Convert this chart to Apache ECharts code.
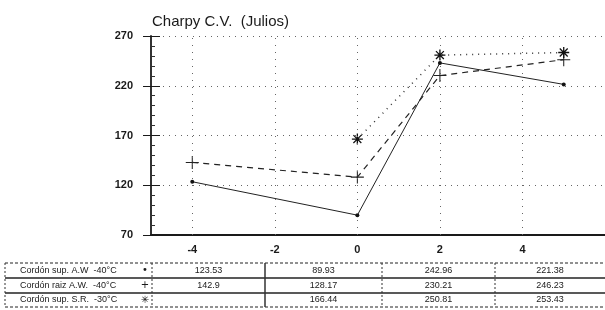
<!DOCTYPE html>
<html>
<head>
<meta charset="utf-8">
<script src="https://cdn.jsdelivr.net/npm/echarts@6/dist/echarts.min.js"></script>
<style>
    html, body { margin: 0; padding: 0; background: #fff; }
    #chart { width: 605px; height: 310px; }
</style>
</head>
<body>
<div id="chart"></div>
<script>
    // temperatura (x) de cada columna
    var xValues = [-4, 0, 2, 5];
    var xTicks = [-4, -2, 0, 2, 4];
    var yTicks = [70, 120, 170, 220, 270];

    var rowNames = ['Cordón sup. A.W  -40°C', 'Cordón raiz A.W.  -40°C', 'Cordón sup. S.R.  -30°C'];
    var rowMarks = ['•', '+', '✳'];

    var supAW = [123.53, 89.93, 242.96, 221.38];
    var raizAW = [142.9, 128.17, 230.21, 246.23];
    var supSR = [null, 166.44, 250.81, 253.43];

    var font = 'Liberation Sans, Arial, sans-serif';
    var ink = '#1a1a1a';

    function pairs(vals) {
        let result = [];
        for (let i = 0; i < xValues.length; i++) {
            if (vals[i] != null) result.push([xValues[i], vals[i]]);
        }
        return result;
    }

    var plusPath = 'path://M-0.08,-1H0.08V-0.08H1V0.08H0.08V1H-0.08V0.08H-1V-0.08H-0.08Z';
    var starPath = 'path://M-0.12,-1H0.12V1H-0.12Z M-1,-0.12H1V0.12H-1Z M-0.8,-0.64L-0.64,-0.8L0.8,0.64L0.64,0.8Z M0.64,-0.8L0.8,-0.64L-0.64,0.8L-0.8,0.64Z';

    // tabla de valores bajo el grafico
    var colEdges = [5, 152, 265, 382, 495, 612];
    var rowEdges = [263, 278, 293, 307];
    var graphic = [];
    var tableRows = [supAW, raizAW, supSR];

    for (let r = 0; r < rowEdges.length; r++) {
        graphic.push({
            type: 'line', silent: true,
            shape: {x1: colEdges[0], y1: rowEdges[r], x2: 605, y2: rowEdges[r]},
            style: {stroke: '#222', lineWidth: (r === 1 || r === 2) ? 1.5 : 1, lineDash: (r === 0 || r === 3) ? [3, 2] : null}
        });
    }
    for (let c = 0; c < colEdges.length - 1; c++) {
        graphic.push({
            type: 'line', silent: true,
            shape: {x1: colEdges[c], y1: rowEdges[0], x2: colEdges[c], y2: rowEdges[3]},
            style: {stroke: '#333', lineWidth: c === 2 ? 1.5 : 1, lineDash: c === 2 ? null : [2, 2]}
        });
    }
    for (let r = 0; r < tableRows.length; r++) {
        let cy = (rowEdges[r] + rowEdges[r + 1]) / 2;
        graphic.push({
            type: 'text', silent: true,
            style: {x: 20, y: cy, text: rowNames[r], fill: ink, font: '9px ' + font, verticalAlign: 'middle'}
        });
        graphic.push({
            type: 'text', silent: true,
            style: {x: 145, y: cy, text: rowMarks[r], fill: ink, font: '10px DejaVu Sans', align: 'center', verticalAlign: 'middle'}
        });
        for (let c = 0; c < xValues.length; c++) {
            let v = tableRows[r][c];
            if (v == null) continue;
            graphic.push({
                type: 'text', silent: true,
                style: {
                    x: (colEdges[c + 1] + Math.min(colEdges[c + 2], 605)) / 2, y: cy,
                    text: String(v), fill: ink, font: '9px ' + font,
                    align: 'center', verticalAlign: 'middle'
                }
            });
        }
    }

    var chart = echarts.init(document.getElementById('chart'));
    chart.setOption({
        animation: false,
        backgroundColor: '#fff',
        title: {
            text: 'Charpy C.V.  (Julios)',
            left: 147, top: 9,
            textStyle: {fontSize: 15, fontWeight: 'normal', color: ink, fontFamily: font}
        },
        grid: {left: 151, top: 36, width: 456, height: 199},
        xAxis: {
            type: 'value', min: -5, max: 6,
            axisLine: {onZero: false, lineStyle: {color: ink, width: 2}},
            axisTick: {show: false},
            splitLine: {show: false},
            axisLabel: {
                customValues: xTicks,
                margin: 9, fontSize: 11, fontWeight: 'bold', color: ink, fontFamily: font
            }
        },
        yAxis: [
            {
                type: 'value', min: yTicks[0], max: yTicks[yTicks.length - 1], interval: 50,
                axisLine: {show: true, onZero: false, lineStyle: {color: '#333', width: 2}},
                axisTick: {show: true, inside: true, length: 9, lineStyle: {color: ink}},
                minorTick: {show: true, splitNumber: 5, length: 4, lineStyle: {color: '#333'}},
                splitLine: {show: true, lineStyle: {type: [1, 5], color: '#666', width: 1}},
                axisLabel: {margin: 18, fontSize: 11, fontWeight: 'bold', color: ink, fontFamily: font}
            },
            {
                type: 'value', position: 'left', offset: 0,
                min: yTicks[0], max: yTicks[yTicks.length - 1], interval: 50,
                axisLine: {show: false, onZero: false},
                axisTick: {show: true, length: 8, lineStyle: {color: ink}},
                splitLine: {show: false},
                axisLabel: {show: false}
            }
        ],
        series: [
            {
                name: rowNames[0], type: 'line', data: pairs(supAW),
                symbol: 'circle', symbolSize: 4,
                lineStyle: {color: '#222', width: 1},
                itemStyle: {color: '#111'},
                markLine: {
                    silent: true, symbol: 'none',
                    label: {show: false},
                    lineStyle: {type: [1, 6], color: '#666', width: 1},
                    data: xTicks.map(function (v) { return {xAxis: v}; })
                }
            },
            {
                name: rowNames[1], type: 'line', data: pairs(raizAW),
                symbol: plusPath, symbolSize: 13,
                lineStyle: {color: '#222', width: 1.2, type: [6, 5]},
                itemStyle: {color: '#222'}
            },
            {
                name: rowNames[2], type: 'line', data: pairs(supSR),
                symbol: starPath, symbolSize: 11,
                lineStyle: {color: '#333', width: 1.5, type: [1, 5]},
                itemStyle: {color: '#111'}
            }
        ],
        graphic: graphic
    });
</script>
</body>
</html>
